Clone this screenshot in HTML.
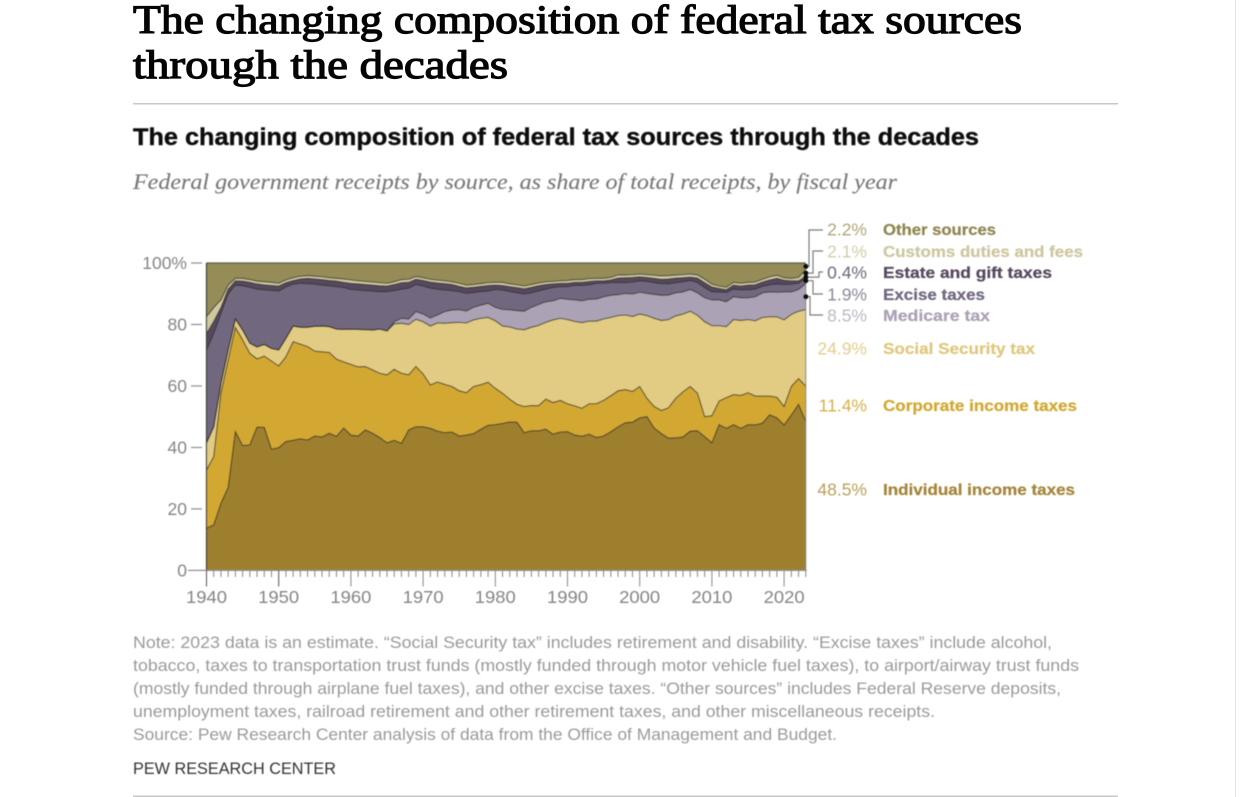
<!DOCTYPE html>
<html lang="en">
<head>
<meta charset="utf-8">
<title>The changing composition of federal tax sources through the decades</title>
<style>
html,body{margin:0;padding:0;background:#fff;width:1241px;height:797px;overflow:hidden}
svg{display:block;position:absolute;left:0;top:0}
text{font-family:"Liberation Sans",sans-serif}
.serif{font-family:"Liberation Serif",serif}
.tick{font-size:17.5px;fill:#858585}
.val{font-size:17.5px}
.name{font-size:16px;font-weight:bold;stroke-width:0.25px}
.note{font-size:16.5px;fill:#9a9a9a}
</style>
</head>
<body>
<svg id="page-svg" width="1241" height="797" viewBox="0 0 1241 797" xmlns="http://www.w3.org/2000/svg">
  <defs><filter id="soft" x="-2%" y="-2%" width="104%" height="104%"><feGaussianBlur stdDeviation="0.45"/></filter></defs>
  <rect x="1235" y="0" width="1" height="797" fill="#e4e4e4"/>
  <text class="serif" x="133" y="33" font-size="40" stroke="#050505" stroke-width="1.2" fill="#050505" textLength="889" lengthAdjust="spacingAndGlyphs">The changing composition of federal tax sources</text>
  <text class="serif" x="133" y="78" font-size="40" stroke="#050505" stroke-width="1.2" fill="#050505" textLength="375" lengthAdjust="spacingAndGlyphs">through the decades</text>
  <rect x="133" y="103" width="985" height="1.5" fill="#c8c8c8"/>
  <g filter="url(#soft)">
    <text x="133" y="145" font-size="24.5" font-weight="bold" fill="#111" stroke="#111" stroke-width="0.4" textLength="846" lengthAdjust="spacingAndGlyphs">The changing composition of federal tax sources through the decades</text>
    <text class="serif" x="133" y="189" font-size="22.5" font-style="italic" fill="#7a7a7a" stroke="#7a7a7a" stroke-width="0.15" textLength="764" lengthAdjust="spacingAndGlyphs">Federal government receipts by source, as share of total receipts, by fiscal year</text>
    <text class="note" x="133" y="648" textLength="919" lengthAdjust="spacingAndGlyphs">Note: 2023 data is an estimate. “Social Security tax” includes retirement and disability. “Excise taxes” include alcohol,</text>
    <text class="note" x="133" y="671" textLength="946" lengthAdjust="spacingAndGlyphs">tobacco, taxes to transportation trust funds (mostly funded through motor vehicle fuel taxes), to airport/airway trust funds</text>
    <text class="note" x="133" y="694" textLength="928" lengthAdjust="spacingAndGlyphs">(mostly funded through airplane fuel taxes), and other excise taxes. “Other sources” includes Federal Reserve deposits,</text>
    <text class="note" x="133" y="717" textLength="802" lengthAdjust="spacingAndGlyphs">unemployment taxes, railroad retirement and other retirement taxes, and other miscellaneous receipts.</text>
    <text class="note" x="133" y="740" textLength="704" lengthAdjust="spacingAndGlyphs">Source: Pew Research Center analysis of data from the Office of Management and Budget.</text>
    <text x="133" y="774" font-size="16.5" fill="#333" textLength="203" lengthAdjust="spacingAndGlyphs">PEW RESEARCH CENTER</text>
    <g id="chart"></g>
  </g>
  <rect x="133" y="795.5" width="985" height="1.5" fill="#c8c8c8"/>
</svg>
<script>
// Values are cumulative shares of total receipts (%), fiscal years 1940-2023.
const firstYear = 1940;
const xTickLabels = [1940, 1950, 1960, 1970, 1980, 1990, 2000, 2010, 2020];
const yTickLabels = [0, 20, 40, 60, 80, 100];
const cumIndividual = [
13.7,14.8,21.8,27,45.1,40.6,40.8,46.6,46.5,39.4,
39.9,41.9,42.3,42.8,42.4,43.7,43.4,44.6,43.6,46.3,
44,43.7,45.7,44.6,43.2,41.5,42.3,41.3,45.7,46.7,
46.7,46.2,45.3,44.8,45,43.7,44,44.5,45.9,47.2,
47.4,47.8,48.3,48.2,44.8,45.4,45.4,45.9,44.3,45,
45.1,44,43.6,44.3,43.2,43.7,45.1,46.7,48,48.2,
49.6,50,46.3,44.5,43,43.1,43.4,45.3,45.4,43.5,
41.5,47.4,46.2,47.4,46.2,47.4,47.3,47.9,50.6,49.6,
47.3,50.5,54,48.5];
const cumCorporate = [
32.6,37,57.6,68.4,79,75,70.6,68.8,69.7,68.1,
66.5,69.5,74.4,73.6,72.8,71.3,71.1,70.9,68.7,67.8,
67,66.2,66.3,65.2,64.1,63.6,65.4,64.1,63.6,66.3,
63.9,60.3,61.3,60.5,59.8,58.4,57.8,59.8,60.4,61.2,
59.2,57.6,55.7,54,53.3,53.6,53.6,55.7,54.6,55.3,
54.2,53.5,52.7,54.2,54.2,55.3,56.8,58.4,58.8,58.2,
59.8,56,53.3,52,52.9,56,58.1,59.8,57.6,50,
50.3,55.1,56.2,57.2,56.9,57.8,56.7,56.7,56.7,56.3,
53.3,59.8,62.4,59.9];
const cumSocialSecurity = [
41.5,46.7,60.8,71.7,81.8,78.2,73.9,72.7,73.5,72.2,
71.7,75.5,79.5,79.1,79.1,79.4,79.5,79.3,78.5,78.4,
78.5,78.4,78.3,78.2,78.5,77.9,80.2,80.4,80,81.7,
80.9,79.5,80.5,80.4,80.6,80.7,80.5,81.5,82,82.3,
81.2,79.5,79.2,78.5,78.3,79.1,79.7,80.7,81.5,82,
81.6,81,80.6,81.1,81.1,81.8,82.3,82.9,83.1,82.6,
83.4,82.9,82,81.3,81.6,82.8,83.4,84.3,83,80.9,
79.6,79.6,79.3,81.6,81.3,81.6,81.2,82.3,82.5,82.5,
81.5,83.3,84.3,84.8];
const cumMedicare = [
41.5,46.7,60.8,71.7,81.8,78.2,73.9,72.7,73.5,72.2,
71.7,75.5,79.5,79.1,79.1,79.4,79.5,79.3,78.5,78.4,
78.5,78.4,78.3,78.2,78.5,77.9,80.9,82,81.8,84.2,
83.4,82.1,83.1,84.2,84.7,84.8,84.4,85.6,86.3,86.9,
85.6,84.9,84.8,84.5,84.3,85.6,86.5,87.4,87.7,88.5,
88.2,88,87.7,88.2,88.3,89,89.5,89.7,90.1,89.9,
90.5,90.1,89.8,89.5,89.6,90.3,90.6,91.4,90.3,88.7,
88,88,87.4,89,88.7,88.7,89,90.3,90.6,90.5,
90.6,90.6,91.4,93.3];
const cumExcise = [
71.7,77,83.6,90,92.8,92.6,92.1,91.5,91.3,91.1,
90.9,92.2,93.1,93.4,93.3,93.1,92.8,92.6,92.3,92,
91.4,91.2,91,90.9,90.7,90.7,91,91.5,91.8,93,
92.5,91.8,91.5,91.2,91,90.7,90.1,90.4,90.7,90.9,
91.4,91.2,90.7,90.3,89.9,90.3,90.9,91.5,92,92.3,
92.3,92.7,92.7,92.9,93.4,93.4,93.6,93.7,93.6,93.8,
94.2,94,93.6,93.3,93.2,93.6,93.9,94.3,93.7,92,
90.6,90.6,90.4,91.5,91.3,91.3,91.5,92.4,92.9,93.2,
93,93.1,93.4,95.2];
const cumEstate = [
77,81,85.5,91.5,94.2,94.1,93.7,93.2,92.9,92.7,
92.5,93.6,94.3,94.8,95,94.8,94.6,94.3,94.1,93.7,
93.4,93.2,93,92.8,92.6,92.5,93,93.6,93.7,94.7,
94.3,93.8,93.5,93.3,93,92.4,91.9,92.1,92.4,92.7,
92.8,92.7,92.3,92,91.6,92.1,92.6,93,93.2,93.4,
93.4,93.7,93.7,94,94.2,94.2,94.5,95.1,95.2,95.3,
95.5,95.3,95,94.7,94.8,95.1,95.2,95.4,95.1,93.6,
92.2,91.7,91.3,92.8,92.5,92.8,92.9,93.8,94.5,95,
94.4,94.2,94.2,95.6];
const cumCustoms = [
82.5,85.5,88,92.8,95,95,94.6,94.1,93.9,93.7,
93.4,94.5,95.2,95.7,95.9,95.7,95.5,95.2,95,94.8,
94.5,94.2,94,93.8,93.6,93.4,93.9,94.6,94.7,95.6,
95.2,94.7,94.4,94.2,93.9,93.4,92.8,93,93.3,93.6,
93.7,93.7,93.2,92.9,92.5,93,93.5,93.9,94,94.2,
94.3,94.6,94.6,94.9,95,95,95.3,96.1,96.1,96.2,
96.4,96.2,96,95.8,95.9,96.1,96.2,96.4,96.1,94.7,
93.1,92.5,92.1,93.7,93.4,93.7,93.8,94.7,95.5,96,
95.2,95,95.3,97.8];
const fullScale = 100;
const lastLabels = ["2.2%", "2.1%", "0.4%", "1.9%", "8.5%", "24.9%", "11.4%", "48.5%"];
const sourceNames = ["Other sources", "Customs duties and fees", "Estate and gift taxes", "Excise taxes", "Medicare tax", "Social Security tax", "Corporate income taxes", "Individual income taxes"];

const svgNS = "http://www.w3.org/2000/svg";
const chart = document.getElementById("chart");
const x0 = 206.5, xPerYear = 7.22, y0 = 570.4, yPerPct = 3.074;
function xScale(i) { return x0 + xPerYear * i; }
function yScale(v) { return y0 - yPerPct * v; }
function make(tag, attrs, parent) {
  const el = document.createElementNS(svgNS, tag);
  for (const k in attrs) el.setAttribute(k, attrs[k]);
  (parent || chart).appendChild(el);
  return el;
}
const zeros = cumIndividual.map(function () { return 0; });
const topLine = cumIndividual.map(function () { return fullScale; });
function areaPath(upper, lower) {
  let d = "";
  upper.forEach(function (v, i) { d += (i ? "L" : "M") + xScale(i).toFixed(2) + " " + yScale(v).toFixed(2); });
  for (let i = lower.length - 1; i >= 0; i--) d += "L" + xScale(i).toFixed(2) + " " + yScale(lower[i]).toFixed(2);
  return d + "Z";
}
function linePath(vals) {
  let d = "";
  vals.forEach(function (v, i) { d += (i ? "L" : "M") + xScale(i).toFixed(2) + " " + yScale(v).toFixed(2); });
  return d;
}
const bands = [
  { key: "other", up: topLine, lo: cumCustoms, fill: "#958c58" },
  { key: "customs", up: cumCustoms, lo: cumEstate, fill: "#cfc9a0" },
  { key: "estate", up: cumEstate, lo: cumExcise, fill: "#57495f" },
  { key: "excise", up: cumExcise, lo: cumMedicare, fill: "#716880" },
  { key: "medicare", up: cumMedicare, lo: cumSocialSecurity, fill: "#aba3b5" },
  { key: "social-security", up: cumSocialSecurity, lo: cumCorporate, fill: "#e2cb82" },
  { key: "corporate", up: cumCorporate, lo: cumIndividual, fill: "#d2a833" },
  { key: "individual", up: cumIndividual, lo: zeros, fill: "#9e7f2e" }
];
bands.forEach(function (b) {
  const a = make("path", { d: areaPath(b.up, b.lo), fill: b.fill });
  
  
});
bands.forEach(function (b) {
  const l = make("path", { d: linePath(b.up), fill: "none", stroke: "#2e2a22", "stroke-opacity": "0.72", "stroke-width": "1.2" });
  
  
});
const lastIndex = cumIndividual.length - 1;
const rightEdge = make("line", { x1: xScale(lastIndex), x2: xScale(lastIndex), y1: yScale(fullScale), y2: y0, stroke: "#8a8a80", "stroke-width": "1" });


const leftAxis = make("line", { x1: x0, x2: x0, y1: yScale(fullScale), y2: y0, stroke: "#3c3c34", "stroke-width": "1.2" });



// y axis
yTickLabels.forEach(function (v) {
  const y = yScale(v);
  const t = make("line", { x1: v === 0 ? 188 : 191, x2: v === 0 ? x0 : 202, y1: y, y2: y, stroke: "#8f8f8f", "stroke-width": "1.2" });
  
  
  const lab = make("text", { x: 187, y: y + 6, "text-anchor": "end", class: "tick" });
  
  
  lab.textContent = v === 100 ? "100%" : String(v);
});
// x axis
const baseline = make("line", { x1: x0, x2: xScale(lastIndex) + 1, y1: y0, y2: y0, stroke: "#8f8f8f", "stroke-width": "1.2" });


cumIndividual.forEach(function (_, i) {
  const year = firstYear + i;
  const major = xTickLabels.indexOf(year) >= 0;
  const x = xScale(i);
  const t = make("line", { x1: x, x2: x, y1: y0, y2: major ? 586.5 : 577, stroke: major && year < 1960 ? "#555" : "#888", "stroke-width": "1" });
  
  
  if (major) {
    const lab = make("text", { x: x, y: 603, "text-anchor": "middle", class: "tick", textLength: "41", lengthAdjust: "spacingAndGlyphs" });
    
    
    lab.textContent = String(year);
  }
});

// direct labels
const labelStyles = [
  { y: 235, v: "#aea67c", n: "#8f8650" },
  { y: 257, v: "#d2cdad", n: "#cdc7a0" },
  { y: 278, v: "#6f6878", n: "#57495f" },
  { y: 300, v: "#8e8798", n: "#716880" },
  { y: 321, v: "#bdb7c5", n: "#aba3b5" },
  { y: 354, v: "#e4ce8a", n: "#e0c87e" },
  { y: 411, v: "#d8b14c", n: "#d2a833" },
  { y: 495, v: "#b99f58", n: "#a4853a" }
];
const nameWidths = [113, 200, 169, 102, 107, 152, 194, 192];
labelStyles.forEach(function (s, i) {
  const v = make("text", { x: 867, y: s.y + 0.5, "text-anchor": "end", class: "val", fill: s.v });
  
  
  v.textContent = lastLabels[i];
  const n = make("text", { x: 883, y: s.y, class: "name", fill: s.n, stroke: s.n, textLength: nameWidths[i], lengthAdjust: "spacingAndGlyphs" });
  
  
  n.textContent = sourceNames[i];
});

// leader lines with dots at the middle of each thin band in the last year
const leaderBands = [
  { up: topLine, lo: cumCustoms, elbow: 809, y: 230 },
  { up: cumCustoms, lo: cumEstate, elbow: 813, y: 251 },
  { up: cumEstate, lo: cumExcise, elbow: 819, y: 272 },
  { up: cumExcise, lo: cumMedicare, elbow: 813, y: 294 },
  { up: cumMedicare, lo: cumSocialSecurity, elbow: 810, y: 315 }
];
leaderBands.forEach(function (b, i) {
  const mid = yScale((b.up[lastIndex] + b.lo[lastIndex]) / 2);
  const px = xScale(lastIndex);
  const l = make("polyline", { points: px + "," + mid + " " + b.elbow + "," + mid + " " + b.elbow + "," + b.y + " 823," + b.y, fill: "none", stroke: "#7a7a7a", "stroke-width": "1.2" });
  
  
  const d = make("circle", { cx: px, cy: mid, r: 2.6, fill: "#111" });
  
  
});
</script>
</body>
</html>
